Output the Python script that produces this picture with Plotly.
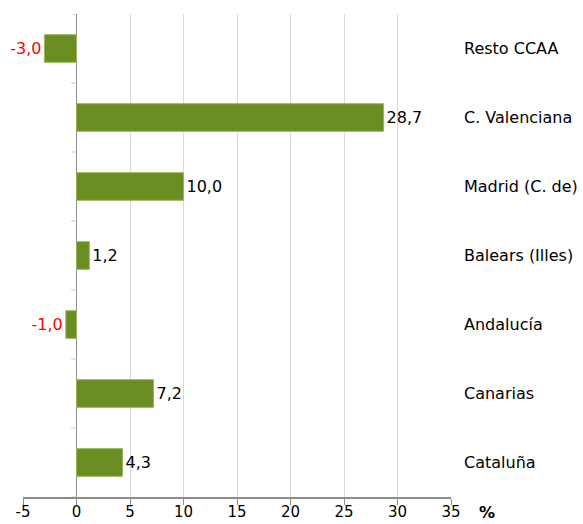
import plotly.graph_objects as go

categories = ["Cataluña", "Canarias", "Andalucía", "Balears (Illes)", "Madrid (C. de)", "C. Valenciana", "Resto CCAA"]
values = [4.3, 7.2, -1.0, 1.2, 10.0, 28.7, -3.0]
x_ticks = [-5, 0, 5, 10, 15, 20, 25, 30, 35]

FONT = "DejaVu Sans"
labels = [f"{v:.1f}".replace(".", ",") for v in values]
label_colors = ["#ff0000" if v < 0 else "#000000" for v in values]

fig = go.Figure()
fig.add_trace(go.Bar(
    x=values, y=categories, orientation="h",
    width=0.4,
    marker=dict(color="rgb(107,142,35)", line=dict(color="rgb(150,180,90)", width=1)),
    text=labels, textposition="outside",
    textfont=dict(family=FONT, size=16, color=label_colors),
    cliponaxis=False, constraintext="none",
    hoverinfo="skip",
))

# small category boundary ticks at the zero line
shapes = []
for i in range(len(categories) + 1):
    yb = i - 0.5
    shapes.append(dict(type="line", xref="x", yref="y", x0=-0.5, x1=0, y0=yb, y1=yb,
                       line=dict(color="#c8c8c8", width=1), layer="above"))

fig.update_layout(
    width=583, height=524,
    margin=dict(l=23, r=132, t=14, b=27, autoexpand=False),
    plot_bgcolor="white", paper_bgcolor="white",
    showlegend=False,
    font=dict(family=FONT, size=16, color="#000000"),
    shapes=shapes,
    xaxis=dict(
        range=[-5, 35], tickvals=x_ticks, ticktext=[str(t) for t in x_ticks],
        showgrid=True, gridcolor="#d9d9d9", gridwidth=1,
        zeroline=True, zerolinecolor="#8c8c8c", zerolinewidth=1,
        showline=True, linecolor="#8c8c8c", linewidth=2,
        ticks="outside", ticklen=6, tickcolor="#8c8c8c", tickwidth=1,
        ticklabelstandoff=-6,
        tickfont=dict(family=FONT, size=15, color="#000000"),
        automargin=False, fixedrange=True,
    ),
    yaxis=dict(
        categoryorder="array", categoryarray=categories,
        range=[-0.5, len(categories) - 0.5],
        side="right", showgrid=False, zeroline=False, showline=False,
        ticks="", ticklabelstandoff=12,
        tickfont=dict(family=FONT, size=16, color="#000000"),
        automargin=False, fixedrange=True,
    ),
    annotations=[dict(text="<b>%</b>", xref="paper", yref="paper", x=1.0, y=0,
                      xshift=36, yshift=-27, showarrow=False,
                      font=dict(family=FONT, size=16, color="#000000"),
                      xanchor="center", yanchor="bottom")],
)

fig.write_html("out.html", config={"displayModeBar": False},
               post_script="document.body.style.margin='0';")
